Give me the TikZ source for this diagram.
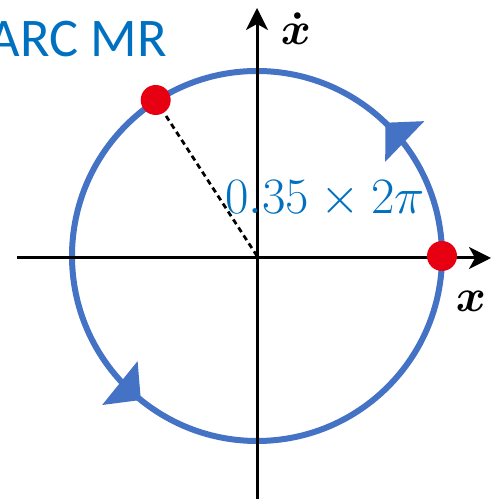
\documentclass[tikz,border=0pt]{standalone}
\usepackage{fix-cm}
\usepackage{amsmath,amssymb}
\usepackage{fontspec}
\newfontfamily\carlito{Carlito}
\usetikzlibrary{arrows.meta,decorations.markings,calc}
\definecolor{orbitblue}{HTML}{4472C4}
\definecolor{labelblue}{HTML}{0070C0}
\definecolor{dotred}{HTML}{E60012}
\tikzset{
  axis/.style    = {line width=0.6mm, black,
                    -{Stealth[length=4.4mm, width=4.4mm, inset=1.2mm]}},
  orbit/.style   = {line width=1.2mm, orbitblue, postaction={decorate},
                    decoration={markings,
                      mark=at position 0.128 with {\arrow{Triangle[length=5.4mm, width=11mm]}},
                      mark=at position 0.642 with {\arrow{Triangle[length=5.4mm, width=11mm]}}}},
  statedot/.style = {circle, fill=dotred, minimum size=6mm, inner sep=0pt},
  phase/.style   = {line width=0.55mm, black, dash pattern=on 1.1mm off 0.8mm},
  lbl/.style     = {inner sep=0pt, text=labelblue},
}

\begin{document}
\begin{tikzpicture}[x=0.02cm, y=0.02cm]
  \useasboundingbox (0,0) rectangle (492,499);

  % orbit
  \coordinate (O) at (257,243);
  \draw[orbit] (O) circle[radius=185];

  % axes
  \coordinate (xl) at (17,241);
  \coordinate (xr) at (491,241);
  \coordinate (yb) at (257,0);
  \coordinate (yt) at (257,491);
  \draw[axis] (xl) -- (xr);
  \draw[axis] (yb) -- (yt);
  \node[anchor=base, inner sep=0pt, font=\fontsize{26}{26}\selectfont] (xdot) at (296,454) {$\boldsymbol{\dot{x}}$};
  \node[anchor=base, inner sep=0pt, font=\fontsize{26}{26}\selectfont] (xlab) at (471,187) {$\boldsymbol{x}$};

  % states on the orbit
  \node[statedot] (start) at ($(O)+(0:185)$) {};
  \node[statedot] (stop) at ($(O)+(123:186)$) {};
  \draw[phase] (O) -- (stop);

  % labels
  \node[lbl, anchor=base east, font=\carlito\fontsize{31}{31}\selectfont] (title) at (167,442) {ARC MR};
  \node[lbl, anchor=base west, font=\fontsize{29}{29}\selectfont] (frac) at (225,285) {$0.35\times 2\pi$};
\end{tikzpicture}
\end{document}
